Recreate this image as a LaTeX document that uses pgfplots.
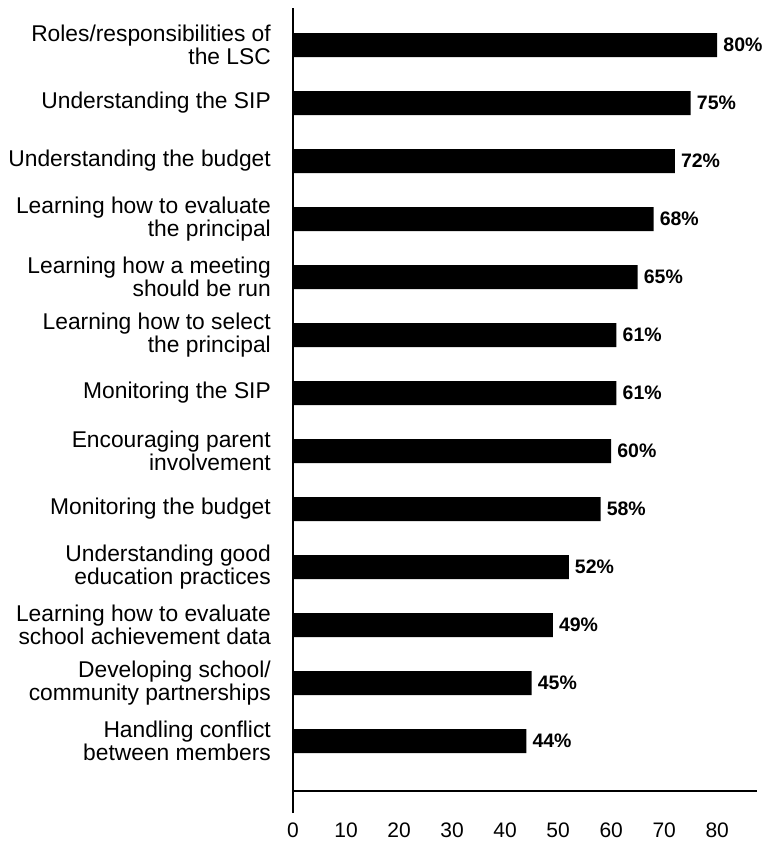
\documentclass[border=0pt]{standalone}
\usepackage{pgfplots}
\pgfplotsset{compat=1.18}
\usepackage{pgfplotstable}
\usepackage{fontspec}
\setmainfont{Liberation Sans}
\pgfplotstableread{
y val
0 44
1 45
2 49
3 52
4 58
5 60
6 61
7 61
8 65
9 68
10 72
11 75
12 80
}\datatab
\begin{document}
\begin{tikzpicture}
\useasboundingbox (0,0) rectangle (765pt,-842pt);
\begin{axis}[
  at={(293pt,-791pt)}, anchor=south west,
  scale only axis, width=464pt, height=783pt,
  xmin=0, xmax=87.5, ymin=-0.862, ymax=12.638,
  axis lines=left,
  axis line style={-, line width=1.2pt},
  y axis line style={shorten <=-22pt},
  major tick length=0pt,
  xtick={0,10,...,80},
  ytick={0,...,12},
  yticklabels={
    {Handling conflict\\between members},
    {Developing school/\\community partnerships},
    {Learning how to evaluate\\school achievement data},
    {Understanding good\\education practices},
    {Monitoring the budget},
    {Encouraging parent\\involvement},
    {Monitoring the SIP},
    {Learning how to select\\the principal},
    {Learning how a meeting\\should be run},
    {Learning how to evaluate\\the principal},
    {Understanding the budget},
    {Understanding the SIP},
    {Roles/responsibilities of\\the LSC}},
  yticklabel style={align=right, anchor=east, inner sep=0pt, xshift=-22pt,
    font=\fontsize{22.8}{22.5}\selectfont},
  xticklabel style={anchor=north, inner sep=0pt, yshift=-32pt,
    font=\fontsize{21}{22}\selectfont},
  /pgf/number format/assume math mode=true,
  clip=false,
  xbar, bar width=24pt,
  nodes near coords={\pgfmathprintnumber{\pgfplotspointmeta}\%},
  nodes near coords style={anchor=west, inner sep=0pt, xshift=6pt,
    font=\fontsize{19.5}{21}\selectfont\bfseries},
]
\addplot[fill=black, draw=none] table[x=val, y=y] {\datatab};
\end{axis}
\end{tikzpicture}
\end{document}
